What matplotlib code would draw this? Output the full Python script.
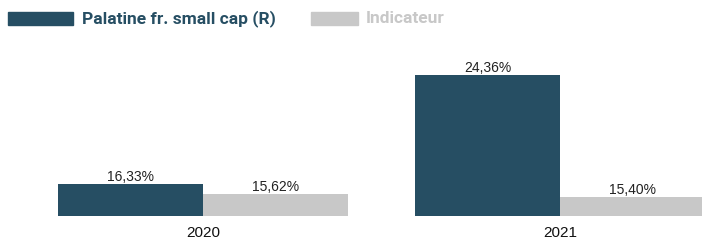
import matplotlib.pyplot as plt
from matplotlib.patches import Rectangle

annees = ['2020', '2021']
fonds = [16.33, 24.36]
indicateur = [15.62, 15.40]
noms = ['Palatine fr. small cap (R)', 'Indicateur']
couleurs = ['#264e63', '#c8c8c8']

plt.rcParams['font.family'] = ['Liberation Sans', 'DejaVu Sans']

W, H = 702, 241
fig = plt.figure(figsize=(W / 100, H / 100), dpi=100)
# axes en pixels : gauche 0, bas 241-216, haut 60
ax = fig.add_axes([0, (H - 216) / H, 1, (216 - 60) / H])

x = list(range(len(annees)))
largeur = 0.406
b1 = ax.bar([i - largeur / 2 for i in x], fonds, largeur, color=couleurs[0])
b2 = ax.bar([i + largeur / 2 for i in x], indicateur, largeur,
            color=couleurs[1])

ax.set_ylim(14, 25.46)
ax.set_xlim(-0.569, 1.398)

for barres, vals in ((b1, fonds), (b2, indicateur)):
    for b, v in zip(barres, vals):
        ax.annotate(f'{v:.2f}%'.replace('.', ','),
                    (b.get_x() + b.get_width() / 2, v),
                    xytext=(0, 0), textcoords='offset points',
                    ha='center', va='bottom', fontsize=10, color='#222222')

ax.set_xticks(x)
ax.set_xticklabels(annees, fontsize=11, color='#111111')
ax.tick_params(axis='x', length=0, pad=7)
ax.set_yticks([])
for s in ax.spines.values():
    s.set_visible(False)

# legende en haut (Roboto, plus etroite)
etroite = ['Roboto', 'Liberation Sans', 'DejaVu Sans']
fig.patches.append(Rectangle((8 / W, 1 - 25 / H), 65 / W, 13 / H,
                             transform=fig.transFigure, color=couleurs[0]))
fig.text(82 / W, 1 - 18.5 / H, noms[0], fontsize=12.5, fontweight='bold',
         color=couleurs[0], va='center', ha='left', family=etroite)
fig.patches.append(Rectangle((311 / W, 1 - 25 / H), 47 / W, 13 / H,
                             transform=fig.transFigure, color=couleurs[1]))
fig.text(366 / W, 1 - 18.5 / H, noms[1], fontsize=12.5, fontweight='bold',
         color=couleurs[1], va='center', ha='left', family=etroite)

fig.savefig('out.png', dpi=100)
